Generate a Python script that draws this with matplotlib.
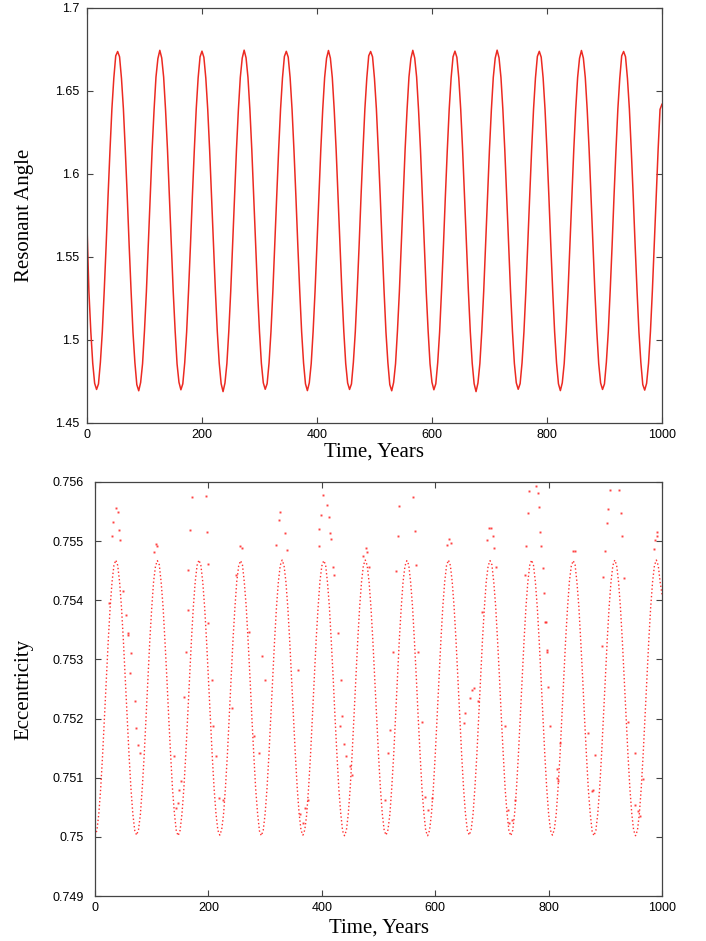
import numpy as np
import matplotlib
matplotlib.use("Agg")
import matplotlib.pyplot as plt

# ---------------- data ----------------
years = np.linspace(0, 1000, 301)

resonant_angle = [
    1.5690, 1.5295, 1.5051, 1.4860, 1.4739,
    1.4702, 1.4735, 1.4866, 1.5049, 1.5297, 1.5571, 1.5868, 1.6141, 1.6392, 1.6577, 1.6712,
    1.6738, 1.6706, 1.6576, 1.6393, 1.6142, 1.5869, 1.5572, 1.5298, 1.5047, 1.4864, 1.4731,
    1.4694, 1.4744, 1.4857, 1.5055, 1.5291, 1.5578, 1.5861, 1.6149, 1.6385, 1.6584, 1.6695,
    1.6745, 1.6699, 1.6584, 1.6386, 1.6149, 1.5861, 1.5579, 1.5292, 1.5055, 1.4856, 1.4745,
    1.4700, 1.4736, 1.4863, 1.5048, 1.5298, 1.5572, 1.5867, 1.6143, 1.6391, 1.6579, 1.6706,
    1.6740, 1.6703, 1.6578, 1.6390, 1.6144, 1.5866, 1.5574, 1.5296, 1.5050, 1.4861, 1.4737,
    1.4689, 1.4741, 1.4858, 1.5053, 1.5293, 1.5577, 1.5863, 1.6147, 1.6387, 1.6582, 1.6698,
    1.6746, 1.6700, 1.6582, 1.6388, 1.6146, 1.5864, 1.5576, 1.5294, 1.5052, 1.4859, 1.4742,
    1.4703, 1.4737, 1.4862, 1.5050, 1.5296, 1.5573, 1.5866, 1.6144, 1.6390, 1.6578, 1.6708,
    1.6739, 1.6704, 1.6579, 1.6389, 1.6143, 1.5867, 1.5573, 1.5297, 1.5049, 1.4862, 1.4736,
    1.4695, 1.4742, 1.4858, 1.5053, 1.5293, 1.5577, 1.5864, 1.6146, 1.6388, 1.6581, 1.6697,
    1.6744, 1.6698, 1.6581, 1.6387, 1.6147, 1.5863, 1.5577, 1.5293, 1.5053, 1.4858, 1.4741,
    1.4702, 1.4735, 1.4866, 1.5049, 1.5297, 1.5571, 1.5868, 1.6141, 1.6392, 1.6577, 1.6712,
    1.6738, 1.6706, 1.6576, 1.6393, 1.6142, 1.5869, 1.5572, 1.5298, 1.5047, 1.4864, 1.4731,
    1.4694, 1.4744, 1.4857, 1.5055, 1.5291, 1.5578, 1.5861, 1.6149, 1.6385, 1.6584, 1.6695,
    1.6745, 1.6699, 1.6584, 1.6386, 1.6149, 1.5861, 1.5579, 1.5292, 1.5055, 1.4856, 1.4745,
    1.4700, 1.4736, 1.4863, 1.5048, 1.5298, 1.5572, 1.5867, 1.6143, 1.6391, 1.6579, 1.6706,
    1.6740, 1.6703, 1.6578, 1.6390, 1.6144, 1.5866, 1.5574, 1.5296, 1.5050, 1.4861, 1.4737,
    1.4689, 1.4741, 1.4858, 1.5053, 1.5293, 1.5577, 1.5863, 1.6147, 1.6387, 1.6582, 1.6698,
    1.6746, 1.6700, 1.6582, 1.6388, 1.6146, 1.5864, 1.5576, 1.5294, 1.5052, 1.4859, 1.4742,
    1.4703, 1.4737, 1.4862, 1.5050, 1.5296, 1.5573, 1.5866, 1.6144, 1.6390, 1.6578, 1.6708,
    1.6739, 1.6704, 1.6579, 1.6389, 1.6143, 1.5867, 1.5573, 1.5297, 1.5049, 1.4862, 1.4736,
    1.4695, 1.4742, 1.4858, 1.5053, 1.5293, 1.5577, 1.5864, 1.6146, 1.6388, 1.6581, 1.6697,
    1.6744, 1.6698, 1.6581, 1.6387, 1.6147, 1.5863, 1.5577, 1.5293, 1.5053, 1.4858, 1.4741,
    1.4702, 1.4735, 1.4866, 1.5049, 1.5297, 1.5571, 1.5868, 1.6141, 1.6392, 1.6577, 1.6712,
    1.6738, 1.6706, 1.6576, 1.6393, 1.6142, 1.5869, 1.5572, 1.5298, 1.5047, 1.4864, 1.4731,
    1.4698, 1.4739, 1.4860, 1.5051, 1.5295, 1.5575, 1.5865, 1.6145, 1.6389, 1.6420,
]

eccentricity = [
    0.75002, 0.75011, 0.75039, 0.75082, 0.75138, 0.75202, 0.75268, 0.75332, 0.75388, 0.75431, 0.75459,
    0.75468, 0.75459, 0.75431, 0.75388, 0.75332, 0.75268, 0.75202, 0.75138, 0.75082, 0.75039, 0.75011,
    0.75003, 0.75012, 0.75038, 0.75083, 0.75137, 0.75203, 0.75267, 0.75333, 0.75387, 0.75432, 0.75458,
    0.75467, 0.75460, 0.75430, 0.75389, 0.75331, 0.75269, 0.75201, 0.75139, 0.75081, 0.75040, 0.75010,
    0.75002, 0.75011, 0.75039, 0.75082, 0.75138, 0.75202, 0.75268, 0.75332, 0.75388, 0.75431, 0.75459,
    0.75468, 0.75459, 0.75431, 0.75388, 0.75332, 0.75268, 0.75202, 0.75138, 0.75082, 0.75039, 0.75011,
    0.75003, 0.75012, 0.75038, 0.75083, 0.75137, 0.75203, 0.75267, 0.75333, 0.75387, 0.75432, 0.75458,
    0.75467, 0.75460, 0.75430, 0.75389, 0.75331, 0.75269, 0.75201, 0.75139, 0.75081, 0.75040, 0.75010,
    0.75002, 0.75011, 0.75039, 0.75082, 0.75138, 0.75202, 0.75268, 0.75332, 0.75388, 0.75431, 0.75459,
    0.75468, 0.75459, 0.75431, 0.75388, 0.75332, 0.75268, 0.75202, 0.75138, 0.75082, 0.75039, 0.75011,
    0.75003, 0.75012, 0.75038, 0.75083, 0.75137, 0.75203, 0.75267, 0.75333, 0.75387, 0.75432, 0.75458,
    0.75467, 0.75460, 0.75430, 0.75389, 0.75331, 0.75269, 0.75201, 0.75139, 0.75081, 0.75040, 0.75010,
    0.75002, 0.75011, 0.75039, 0.75082, 0.75138, 0.75202, 0.75268, 0.75332, 0.75388, 0.75431, 0.75459,
    0.75468, 0.75459, 0.75431, 0.75388, 0.75332, 0.75268, 0.75202, 0.75138, 0.75082, 0.75039, 0.75011,
    0.75003, 0.75012, 0.75038, 0.75083, 0.75137, 0.75203, 0.75267, 0.75333, 0.75387, 0.75432, 0.75458,
    0.75467, 0.75460, 0.75430, 0.75389, 0.75331, 0.75269, 0.75201, 0.75139, 0.75081, 0.75040, 0.75010,
    0.75002, 0.75011, 0.75039, 0.75082, 0.75138, 0.75202, 0.75268, 0.75332, 0.75388, 0.75431, 0.75459,
    0.75468, 0.75459, 0.75431, 0.75388, 0.75332, 0.75268, 0.75202, 0.75138, 0.75082, 0.75039, 0.75011,
    0.75003, 0.75012, 0.75038, 0.75083, 0.75137, 0.75203, 0.75267, 0.75333, 0.75387, 0.75432, 0.75458,
    0.75467, 0.75460, 0.75430, 0.75389, 0.75331, 0.75269, 0.75201, 0.75139, 0.75081, 0.75040, 0.75010,
    0.75002, 0.75011, 0.75039, 0.75082, 0.75138, 0.75202, 0.75268, 0.75332, 0.75388, 0.75431, 0.75459,
    0.75468, 0.75459, 0.75431, 0.75388, 0.75332, 0.75268, 0.75202, 0.75138, 0.75082, 0.75039, 0.75011,
    0.75003, 0.75012, 0.75038, 0.75083, 0.75137, 0.75203, 0.75267, 0.75333, 0.75387, 0.75432, 0.75458,
    0.75467, 0.75460, 0.75430, 0.75389, 0.75331, 0.75269, 0.75201, 0.75139, 0.75081, 0.75040, 0.75010,
    0.75002, 0.75011, 0.75039, 0.75082, 0.75138, 0.75202, 0.75268, 0.75332, 0.75388, 0.75431, 0.75459,
    0.75468, 0.75459, 0.75431, 0.75388, 0.75332, 0.75268, 0.75202, 0.75138, 0.75082, 0.75039, 0.75011,
    0.75002, 0.75011, 0.75039, 0.75082, 0.75138, 0.75202, 0.75268, 0.75332, 0.75388, 0.75431, 0.75459,
    0.75468, 0.75459, 0.75431, 0.75410,
]

# scattered (off-curve) eccentricity points
scatter_years = [
    37, 40, 32, 42, 30, 44.6, 24.7, 50, 54.7, 57.6, 108, 110, 104,
    171, 196, 168, 197.5, 164.6, 200, 255.7, 259, 248.7,
    326, 324, 335.7, 320, 338.6,
    402.7, 408.6, 398.6, 412, 395.6, 414.5, 416, 394.5, 419, 421,
    478, 480, 473, 483.8, 536.7, 561.4, 533.9, 563.8, 530.9, 566,
    625, 627.3, 621.4, 695.5, 699, 692, 701.4, 703.7, 707,
    777.8, 765.4, 780.7, 783, 763, 784.8, 760, 786.6, 757.8, 789.6,
    843.6, 846.6, 908.3, 924.7, 905.3, 927.7, 902.4, 930, 900, 933, 896.5,
    990.6, 992, 987, 986.5, 792, 795.4, 797.7, 682,
    58.8, 63.5, 70.5, 71.7, 75.2, 79.4, 61.7,
    142.3, 145.8, 148.1, 151.7, 157.6, 160, 163.4, 140,
    208.7, 212.8, 218.7, 226.3, 206.9, 200,
    242.2, 271.6, 294, 299.8, 289.2, 281,
    358.6, 367.4, 370.4, 376.2, 361.6,
    428, 433.9, 436.2, 439.7, 442.1, 449.7, 452.7, 432,
    526.2, 520.3, 517.3, 511.5, 570.3, 576.2, 582.1, 593.8, 587.9,
    664.3, 661.4, 669, 652.9, 650, 676.1,
    729, 734.8, 730.1, 740.7, 723.2,
    799.5, 802.4, 820, 814.1, 817, 814, 796.5, 793.6,
    881.8, 878.9, 876, 893.5, 870.1,
    940.6, 958.2, 961.1, 952.3, 967, 952.3,
]
scatter_ecc = [
    0.75556, 0.75549, 0.75532, 0.75519, 0.75508, 0.75502, 0.75395, 0.75416, 0.75375, 0.75342, 0.75495, 0.75491, 0.75482,
    0.75575, 0.75576, 0.75519, 0.75515, 0.75451, 0.75461, 0.75491, 0.75488, 0.75443,
    0.75549, 0.75536, 0.75513, 0.75494, 0.75485,
    0.75578, 0.75561, 0.75545, 0.75540, 0.75521, 0.75514, 0.75503, 0.75491, 0.75457, 0.75443,
    0.75489, 0.75481, 0.75475, 0.75457, 0.75559, 0.75575, 0.75509, 0.75517, 0.75449, 0.75460,
    0.75503, 0.75497, 0.75494, 0.75523, 0.75523, 0.75502, 0.75509, 0.75488, 0.75457,
    0.75594, 0.75585, 0.75581, 0.75558, 0.75548, 0.75516, 0.75491, 0.75491, 0.75443, 0.75454,
    0.75483, 0.75483, 0.75586, 0.75586, 0.75554, 0.75548, 0.75530, 0.75509, 0.75484, 0.75437, 0.75439,
    0.75516, 0.75509, 0.75502, 0.75486, 0.75412, 0.75364, 0.75313, 0.75381,
    0.75344, 0.75311, 0.75229, 0.75184, 0.75156, 0.75142, 0.75277,
    0.75049, 0.75057, 0.75080, 0.75094, 0.75237, 0.75313, 0.75384, 0.75136,
    0.75187, 0.75136, 0.75066, 0.75063, 0.75266, 0.75361,
    0.75218, 0.75347, 0.75305, 0.75266, 0.75142, 0.75170,
    0.75282, 0.75024, 0.75049, 0.75063, 0.75038,
    0.75344, 0.75266, 0.75204, 0.75157, 0.75136, 0.75119, 0.75105, 0.75187,
    0.75313, 0.75181, 0.75142, 0.75063, 0.75313, 0.75195, 0.75068, 0.75066, 0.75046,
    0.75249, 0.75235, 0.75252, 0.75210, 0.75193, 0.75229,
    0.75046, 0.75029, 0.75024, 0.75063, 0.75187,
    0.75254, 0.75187, 0.75159, 0.75100, 0.75094, 0.75114, 0.75316, 0.75364,
    0.75139, 0.75080, 0.75077, 0.75322, 0.75175,
    0.75195, 0.75043, 0.75035, 0.75054, 0.75097, 0.75142,
]

x_ticks = [0, 200, 400, 600, 800, 1000]
x_tick_labels = ["0", "200", "400", "600", "800", "1000"]
angle_ticks = [1.45, 1.5, 1.55, 1.6, 1.65, 1.7]
angle_tick_labels = ["1.45", "1.5", "1.55", "1.6", "1.65", "1.7"]
ecc_ticks = [0.749, 0.750, 0.751, 0.752, 0.753, 0.754, 0.755, 0.756]
ecc_tick_labels = ["0.749", "0.75", "0.751", "0.752", "0.753", "0.754", "0.755", "0.756"]

x_label = "Time, Years"
angle_label = "Resonant Angle"
ecc_label = "Eccentricity"

# ---------------- figure ----------------
SERIF = ["Liberation Serif", "DejaVu Serif"]
SANS = ["Liberation Sans", "DejaVu Sans"]
SPINE = "#444444"

fig = plt.figure(figsize=(7.06, 9.41), dpi=100)
ax1 = fig.add_axes([0.1232, 0.5505, 0.8144, 0.4410])
ax2 = fig.add_axes([0.1346, 0.0478, 0.8031, 0.4400])


def style(ax, yticks, ylabels, ypad):
    for s in ax.spines.values():
        s.set_color(SPINE)
        s.set_linewidth(0.9)
    ax.set_xlim(0, 1000)
    ax.set_xticks(x_ticks)
    ax.set_xticklabels(x_tick_labels, family=SANS, fontsize=9)
    ax.set_ylim(yticks[0], yticks[-1])
    ax.set_yticks(yticks)
    ax.set_yticklabels(ylabels, family=SANS, fontsize=9)
    ax.tick_params(direction="in", length=4.3, width=0.8, color=SPINE,
                   top=True, right=True, labelcolor="black")
    ax.tick_params(axis="x", pad=4.5)
    ax.tick_params(axis="y", pad=ypad)


ax1.plot(years, resonant_angle, color="#ec2a22", lw=1.1)
style(ax1, angle_ticks, angle_tick_labels, 5.5)
ax1.set_xlabel(x_label, family=SERIF, fontsize=15)
ax1.set_ylabel(angle_label, family=SERIF, fontsize=15)
ax1.xaxis.set_label_coords(0.5, -0.046)
ax1.yaxis.set_label_coords(-0.092, 0.5)

ax2.plot(years, eccentricity, color="#ff1a1a", lw=1.0, alpha=0.9,
         linestyle=(0, (1.0, 1.7)))
ax2.plot(scatter_years, scatter_ecc, linestyle="none", marker="s", ms=1.4,
         color="#ff2222", mec="none", alpha=0.85)
style(ax2, ecc_ticks, ecc_tick_labels, 8.0)
ax2.set_xlabel(x_label, family=SERIF, fontsize=15)
ax2.set_ylabel(ecc_label, family=SERIF, fontsize=15)
ax2.xaxis.set_label_coords(0.5, -0.055)
ax2.yaxis.set_label_coords(-0.109, 0.5)

fig.savefig("out.png", dpi=100)
